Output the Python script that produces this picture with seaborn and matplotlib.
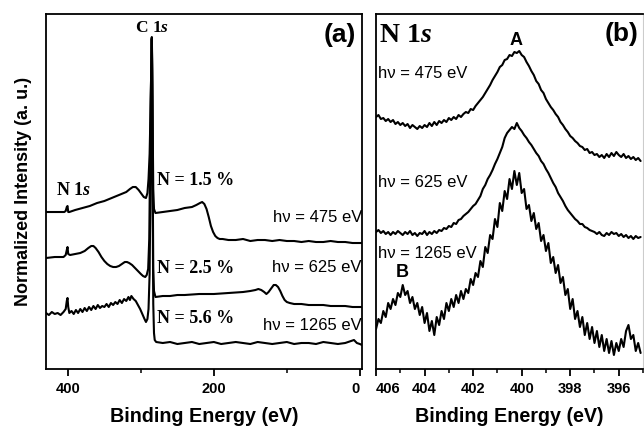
import numpy as np
import seaborn as sns
import matplotlib.pyplot as plt

# ---- panel (a): survey spectra (binding energy in eV, intensity in arbitrary units) ----
survey_e_475 = [430, 415, 405, 403, 401.5, 400.5, 399.5, 398, 390, 380,
                370, 360, 350, 340, 330, 320, 315, 311, 307, 303,
                299, 296, 293, 291, 289.5, 288, 287, 286, 285.5, 285,
                284.5, 284, 283.5, 283, 282, 280, 270, 260, 250, 240,
                230, 224, 219, 216, 213, 210, 207, 204, 201, 198,
                195, 192, 188, 180, 170, 160, 150, 140, 130, 120,
                110, 100, 90, 80, 70, 60, 50, 40, 30, 20,
                10, 0, -3]
survey_i_475 = [157, 157, 157, 158, 162, 163, 157, 157, 159, 161,
                163, 166, 168, 171, 174, 177, 180, 182, 182, 179,
                175, 172, 171, 176, 190, 215, 250, 290, 315, 332,
                310, 270, 220, 180, 160, 156, 157, 158, 159, 161,
                162, 164, 166, 167, 165, 160, 152, 143, 137, 133,
                131, 130, 130, 129, 129, 130, 128, 129, 129, 128,
                129, 128, 128, 127, 128, 127, 127, 128, 127, 127,
                126, 126, 126]

survey_e_625 = [430, 418, 406, 403, 401.5, 400.5, 399.5, 397, 390, 383,
                377, 372, 368, 365, 362, 358, 354, 350, 346, 342,
                338, 334, 330, 326, 322, 319, 316, 312, 308, 304,
                300, 297, 294, 292, 290, 288.5, 287.5, 286.5, 285.5, 285,
                284.5, 284, 283.5, 283, 282, 280, 270, 260, 250, 240,
                220, 200, 180, 160, 150, 143, 139, 135, 131, 128,
                125, 121, 118, 115, 112, 109, 106, 103, 100, 96,
                90, 80, 70, 60, 50, 40, 30, 20, 10, 0,
                -3]
survey_i_625 = [111, 112, 112, 114, 119, 122, 115, 114, 115, 116,
                118, 121, 123, 123, 121, 117, 112, 108, 105, 103,
                102, 102, 103, 105, 107, 107, 106, 104, 101, 98,
                95, 93, 92, 94, 100, 130, 200, 270, 310, 331,
                300, 230, 160, 100, 78, 72, 73, 73, 74, 74,
                75, 75, 76, 77, 78, 79, 80, 79, 77, 75,
                77, 81, 84, 84, 82, 78, 73, 69, 67, 66,
                65, 65, 64, 64, 64, 63, 63, 63, 62, 62,
                62]

survey_e_1265 = [430, 426, 422, 418, 414, 410, 406, 403, 401.5, 400.5,
                 399.5, 398, 395, 392, 389, 386, 383, 380, 377, 374,
                 371, 368, 365, 362, 359, 356, 353, 350, 347, 344,
                 341, 338, 335, 332, 329, 326, 323, 320, 317, 315,
                 313, 310, 307, 304, 301, 298, 295, 293, 291, 289.5,
                 288, 287, 286, 285.5, 285, 284.5, 284, 283.5, 283, 282,
                 281, 279, 270, 260, 250, 240, 230, 220, 210, 200,
                 190, 180, 170, 160, 150, 140, 130, 120, 110, 100,
                 90, 80, 70, 60, 50, 40, 30, 20, 12, 8,
                 4, 0, -3]
survey_i_1265 = [56, 54, 57, 55, 56, 54, 57, 60, 68, 71,
                 62, 56, 58, 55, 59, 56, 60, 57, 61, 58,
                 62, 59, 63, 60, 64, 61, 63, 62, 65, 62,
                 66, 64, 67, 65, 69, 66, 70, 68, 72, 69,
                 73, 70, 68, 64, 60, 55, 50, 47, 50, 60,
                 95, 170, 250, 300, 330, 285, 200, 120, 65, 36,
                 29, 27, 26, 27, 25, 26, 27, 25, 26, 27,
                 25, 26, 27, 26, 25, 27, 26, 25, 26, 27,
                 25, 26, 26, 25, 27, 26, 25, 26, 28, 29,
                 26, 25, 24]

# ---- panel (b): N 1s core level ----
n1s_e = [406.0, 405.9, 405.8, 405.7, 405.6, 405.5, 405.4, 405.3, 405.2, 405.1,
         405.0, 404.9, 404.8, 404.7, 404.6, 404.5, 404.4, 404.3, 404.2, 404.1,
         404.0, 403.9, 403.8, 403.7, 403.6, 403.5, 403.4, 403.3, 403.2, 403.1,
         403.0, 402.9, 402.8, 402.7, 402.6, 402.5, 402.4, 402.3, 402.2, 402.1,
         402.0, 401.9, 401.8, 401.7, 401.6, 401.5, 401.4, 401.3, 401.2, 401.1,
         401.0, 400.9, 400.8, 400.7, 400.6, 400.5, 400.4, 400.3, 400.2, 400.1,
         400.0, 399.9, 399.8, 399.7, 399.6, 399.5, 399.4, 399.3, 399.2, 399.1,
         399.0, 398.9, 398.8, 398.7, 398.6, 398.5, 398.4, 398.3, 398.2, 398.1,
         398.0, 397.9, 397.8, 397.7, 397.6, 397.5, 397.4, 397.3, 397.2, 397.1,
         397.0, 396.9, 396.8, 396.7, 396.6, 396.5, 396.4, 396.3, 396.2, 396.1,
         396.0, 395.9, 395.8, 395.7, 395.6, 395.5, 395.4, 395.3, 395.2, 395.1]
n1s_475 = [252, 254, 250, 251, 248, 250, 247, 249, 245, 247,
           244, 246, 243, 245, 241, 244, 242, 240, 243, 241,
           244, 242, 246, 243, 247, 244, 248, 246, 249, 247,
           251, 249, 252, 250, 254, 252, 255, 257, 256, 260,
           259, 263, 266, 269, 272, 276, 280, 284, 289, 293,
           297, 302, 304, 309, 310, 314, 313, 317, 316, 318,
           314, 312, 307, 303, 298, 294, 288, 285, 279, 276,
           270, 266, 262, 259, 255, 252, 247, 244, 240, 237,
           233, 231, 228, 226, 223, 222, 219, 220, 216, 217,
           214, 215, 212, 214, 211, 215, 212, 216, 213, 217,
           214, 212, 215, 211, 213, 210, 212, 209, 211, 208]
n1s_625 = [137, 139, 136, 138, 135, 137, 134, 137, 135, 138,
           136, 134, 137, 135, 138, 134, 136, 133, 136, 135,
           138, 134, 137, 135, 138, 136, 139, 138, 141, 140,
           143, 142, 146, 145, 149, 150, 153, 155, 157, 160,
           163, 165, 169, 173, 180, 184, 190, 194, 199, 205,
           210, 216, 222, 231, 236, 239, 242, 240, 246, 241,
           238, 234, 231, 227, 224, 220, 216, 213, 208, 205,
           200, 196, 191, 186, 182, 176, 172, 168, 163, 159,
           156, 153, 150, 148, 145, 145, 142, 141, 139, 138,
           137, 135, 137, 134, 133, 136, 134, 137, 135, 136,
           133, 135, 132, 134, 131, 133, 130, 133, 131, 132]
n1s_1265 = [40, 50, 46, 58, 52, 66, 60, 70, 64, 76,
            72, 84, 74, 78, 66, 72, 60, 66, 54, 62,
            46, 56, 38, 48, 34, 52, 44, 58, 50, 66,
            58, 70, 62, 74, 66, 78, 70, 80, 76, 90,
            84, 96, 92, 108, 102, 122, 116, 134, 130, 150,
            142, 166, 158, 178, 170, 190, 180, 198, 184, 196,
            176, 180, 160, 164, 148, 156, 140, 146, 128, 134,
            118, 126, 106, 112, 96, 104, 86, 92, 74, 80,
            60, 70, 50, 58, 42, 52, 34, 46, 30, 42,
            26, 38, 22, 34, 18, 30, 16, 28, 14, 26,
            18, 30, 22, 38, 44, 30, 34, 18, 26, 16]

tick_a = [400, 200, 0]
tick_b = [406, 404, 402, 400, 398, 396]

sns.set_style("ticks")
plt.rcParams['font.family'] = ['Liberation Sans', 'DejaVu Sans']
plt.rcParams['text.color'] = 'black'
plt.rcParams['axes.labelcolor'] = 'black'
plt.rcParams['xtick.color'] = 'black'
plt.rcParams['mathtext.fontset'] = 'custom'
plt.rcParams['mathtext.rm'] = 'Liberation Serif:bold'
plt.rcParams['mathtext.it'] = 'Liberation Serif:bold:italic'
plt.rcParams['mathtext.bf'] = 'Liberation Serif:bold'

fig = plt.figure(figsize=(6.44, 4.26), dpi=100)
ax1 = fig.add_axes([0.0714, 0.1338, 0.4907, 0.8333])
ax2 = fig.add_axes([0.5839, 0.1338, 0.4146, 0.8333])

lw = 1.5
sns.lineplot(x=survey_e_475, y=survey_i_475, ax=ax1, color='black', lw=lw, sort=False, estimator=None)
sns.lineplot(x=survey_e_625, y=survey_i_625, ax=ax1, color='black', lw=lw, sort=False, estimator=None)
sns.lineplot(x=survey_e_1265, y=survey_i_1265, ax=ax1, color='black', lw=lw, sort=False, estimator=None)

sns.lineplot(x=n1s_e, y=n1s_475, ax=ax2, color='black', lw=lw, sort=False, estimator=None)
sns.lineplot(x=n1s_e, y=n1s_625, ax=ax2, color='black', lw=lw, sort=False, estimator=None)
sns.lineplot(x=n1s_e, y=n1s_1265, ax=ax2, color='black', lw=lw, sort=False, estimator=None)

ax1.set_xlim(430, -3)
ax2.set_xlim(406, 395.1)
for ax in (ax1, ax2):
    ax.set_ylim(0, 355)
    ax.set_yticks([])
    for s in ax.spines.values():
        s.set_linewidth(1.3)
        s.set_color('black')
    ax.tick_params(axis='x', which='major', direction='out', length=5, width=1.3,
                   labelsize=10.5, pad=4)
    ax.tick_params(axis='x', which='minor', direction='out', length=3, width=1.1)
    ax.set_ylabel('')

ax2.spines['right'].set_color('#cccccc')
ax2.spines['right'].set_linewidth(0.8)

ax1.set_xticks(tick_a)
ax1.set_xticks([300, 100], minor=True)
ax1.set_xticklabels([str(t) for t in tick_a], fontweight='bold')
ax2.set_xticks(tick_b)
ax2.set_xticks([405, 403, 401, 399, 397, 395], minor=True)
ax2.set_xticklabels([str(t) for t in tick_b], fontweight='bold')
# the "0" and "406" labels sit side by side at the panel gap
ax1.get_xticklabels()[-1].set_horizontalalignment('right')
ax2.get_xticklabels()[0].set_horizontalalignment('left')

ax1.set_xlabel('Binding Energy (eV)', fontsize=14.2, fontweight='bold', labelpad=8)
ax2.set_xlabel('Binding Energy (eV)', fontsize=14.2, fontweight='bold', labelpad=8)
ax1.set_ylabel('Normalized Intensity (a. u.)', fontsize=13, fontweight='bold', labelpad=10)

serif = ['Liberation Serif', 'DejaVu Serif']

# panel (a) annotations
ax1.text(285, 342, r'$\mathrm{C\ 1}\mathit{s}$', fontsize=12.5, ha='center', va='center')
ax1.text(392.5, 179, r'$\mathrm{N\ 1}\mathit{s}$', fontsize=13, ha='center', va='center')
ax1.text(278, 189, 'N = 1.5 %', family=serif, fontsize=13, fontweight='bold', ha='left', va='center')
ax1.text(278, 101, 'N = 2.5 %', family=serif, fontsize=13, fontweight='bold', ha='left', va='center')
ax1.text(278, 51, 'N = 5.6 %', family=serif, fontsize=13, fontweight='bold', ha='left', va='center')
ax1.text(-3, 152, 'hν = 475 eV', fontsize=12, ha='right', va='center', clip_on=True)
ax1.text(-3, 102, 'hν = 625 eV', fontsize=12, ha='right', va='center', clip_on=True)
ax1.text(-3, 44, 'hν = 1265 eV', fontsize=12, ha='right', va='center', clip_on=True)
ax1.text(5.5, 334, '(a)', fontsize=19, fontweight='bold', ha='right', va='center')

# panel (b) annotations
ax2.text(405.88, 334, r'$\mathrm{N\ 1}\mathit{s}$', fontsize=20, ha='left', va='center')
ax2.text(400.24, 329, 'A', fontsize=13, fontweight='bold', ha='center', va='center')
ax2.text(395.2, 335, '(b)', fontsize=19, fontweight='bold', ha='right', va='center')
ax2.text(405.9, 296, 'hν = 475 eV', fontsize=12, ha='left', va='center')
ax2.text(405.9, 187, 'hν = 625 eV', fontsize=12, ha='left', va='center')
ax2.text(405.9, 116, 'hν = 1265 eV', fontsize=12, ha='left', va='center')
ax2.text(404.94, 97, 'B', fontsize=13, fontweight='bold', ha='center', va='center')

fig.savefig('out.png', dpi=100)
